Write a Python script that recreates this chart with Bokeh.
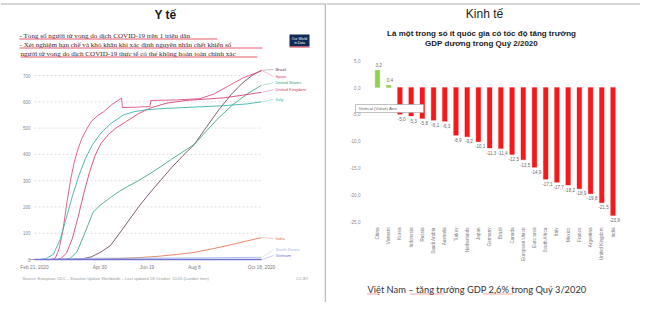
import math
from bokeh.plotting import figure
from bokeh.layouts import row
from bokeh.models import Range1d
from bokeh.core.properties import value
from bokeh.embed import file_html
from bokeh.resources import INLINE

SANS = "Liberation Sans"
SERIF = "Liberation Serif"

# ---------------- left panel data: COVID-19 deaths per million ----------------
tick_days = [0, 69, 119, 169, 240]
tick_labels = ["Feb 21, 2020", "Apr 30", "Jun 19", "Aug 8", "Oct 18, 2020"]
y_ticks = [0, 100, 200, 300, 400, 500, 600, 700]

countries = ["Brazil", "Spain", "United States", "United Kingdom", "Italy",
             "India", "South Korea", "Vietnam"]
colors = ["#6b4162", "#e0457b", "#3da37d", "#d33d6c", "#36b0a6",
          "#e4734f", "#9fb6e6", "#6c6fd6"]

brazil_days = [0, 38, 50, 60, 70, 80, 90, 100, 110, 120, 133, 145, 157, 169, 182, 195, 208, 220, 230, 240]
brazil_vals = [0, 0, 2, 10, 28, 52, 100, 150, 200, 245, 300, 350, 395, 438, 505, 570, 628, 672, 700, 720]

spain_days = [0, 17, 22, 26, 30, 34, 38, 42, 46, 50, 55, 60, 66, 73, 82, 92, 93, 110, 122, 123, 150, 175, 190, 205, 220, 240]
spain_vals = [0, 0, 5, 40, 110, 210, 300, 370, 420, 460, 495, 525, 545, 562, 590, 614, 578, 580, 582, 605, 607, 612, 630, 660, 690, 718]

us_days = [0, 25, 32, 38, 45, 52, 62, 69, 80, 90, 98, 110, 120, 133, 145, 157, 169, 182, 195, 210, 225, 240]
us_vals = [0, 0, 1, 5, 30, 90, 180, 205, 235, 260, 277, 300, 322, 352, 382, 410, 438, 490, 540, 590, 630, 663]

uk_days = [0, 22, 28, 34, 40, 46, 52, 58, 64, 70, 78, 86, 97, 110, 123, 140, 160, 180, 200, 220, 240]
uk_vals = [0, 0, 4, 25, 80, 160, 250, 330, 395, 440, 475, 500, 525, 555, 577, 595, 605, 610, 615, 625, 636]

italy_days = [0, 5, 12, 20, 27, 33, 40, 47, 54, 61, 70, 80, 94, 105, 119, 140, 170, 200, 225, 240]
italy_vals = [0, 0, 3, 20, 75, 150, 240, 320, 385, 435, 480, 515, 550, 562, 570, 575, 580, 585, 592, 600]

india_days = [0, 40, 60, 73, 90, 110, 130, 150, 169, 190, 210, 225, 240]
india_vals = [0, 0, 0.3, 1.5, 3.5, 7, 12, 19, 27, 42, 58, 71, 83]

korea_days = [0, 10, 20, 30, 45, 60, 90, 130, 170, 200, 240]
korea_vals = [0, 0, 0.5, 2, 3.5, 4.8, 5.3, 5.5, 6, 7, 8.5]

vietnam_days = [0, 150, 155, 165, 180, 240]
vietnam_vals = [0, 0, 0.1, 0.2, 0.35, 0.36]

series_days = [brazil_days, spain_days, us_days, uk_days, italy_days, india_days, korea_days, vietnam_days]
series_vals = [brazil_vals, spain_vals, us_vals, uk_vals, italy_vals, india_vals, korea_vals, vietnam_vals]

# ---------------- right panel data: GDP growth Q2/2020 ----------------
gdp_countries = ["China", "Vietnam", "Korea", "Indonesia", "Russia", "Saudi Arabia",
                 "Australia", "Turkey", "Netherlands", "Japan", "Germany", "Brazil",
                 "Canada", "European Union", "Euro area", "South Africa", "Italy",
                 "Mexico", "France", "Argentina", "United Kingdom", "India"]
gdp_growth = [3.2, 0.4, -5.0, -5.3, -5.8, -6.1, -6.3, -8.9, -9.2, -10.1, -11.3, -11.4,
              -12.5, -13.5, -14.9, -17.1, -17.7, -18.2, -18.9, -19.8, -21.5, -23.9]
gdp_ticks = [5, 0, -5, -10, -15, -20, -25]

# ---------------- geometry (image pixel space) ----------------
W_L, W_R, H = 326, 314, 302
ORG = 8  # page margin


def txt(p, xs, ys, texts, size, color, align="left", baseline="middle",
        font=SANS, style="normal", angle=0.0, px=True):
    kw = dict(x_range_name="px", y_range_name="px") if px else {}
    p.text(x=xs, y=ys, text=texts, text_font=value(font), text_font_size=f"{size}px",
           text_color=color, text_align=align, text_baseline=baseline,
           text_font_style=style, angle=angle, **kw)


# ================= LEFT PANEL =================
D0_X, DEND_X = 42.0, 269.0
V0_Y, V700_Y = 267.0, 83.0
kx = (DEND_X - D0_X) / tick_days[-1]
ky = (V0_Y - V700_Y) / 700.0


def ld(px):
    return (px - D0_X) / kx


def lv(py):
    return (V0_Y - py) / ky


pl = figure(width=W_L, height=H, x_range=Range1d(ld(ORG), ld(ORG + W_L)),
            y_range=Range1d(lv(ORG + H), lv(ORG)), output_backend="svg",
            toolbar_location=None, x_axis_type=None, y_axis_type=None,
            min_border=0, outline_line_color=None)
pl.extra_x_ranges = {"px": Range1d(ORG, ORG + W_L)}
pl.extra_y_ranges = {"px": Range1d(ORG + H, ORG)}

# frame lines
pl.segment(x0=[ORG], x1=[ORG + W_L], y0=[11.5], y1=[11.5], line_color="#c8c8c8",
           line_width=1.5, x_range_name="px", y_range_name="px")
pl.segment(x0=[333], x1=[333], y0=[11.5], y1=[ORG + H], line_color="#bdbdbd",
           line_width=1.5, x_range_name="px", y_range_name="px")

# title
txt(pl, [173], [22], ["Y tế"], 12, "#1a1a1a", align="center", style="bold")

# red notes
notes = ["- Tổng số người tử vong do dịch COVID-19   trên 1 triệu dân",
         "- Xét nghiệm hạn chế và khó khăn khi xác  định nguyên nhân chết khiến số",
         "người tử vong do dịch COVID-19  thực tế có thể không hoàn toàn chính xác"]
txt(pl, [27, 27, 28], [43, 52, 61.5], notes, 7.1, "#4a2222", font=SERIF)
pl.segment(x0=[27, 27, 28], x1=[225, 270, 265], y0=[46.5, 55.5, 64.5],
           y1=[46.5, 55.5, 64.5], line_color="#e0304a", line_width=0.8,
           x_range_name="px", y_range_name="px")

# OWID logo
pl.quad(left=[297], right=[317], top=[42], bottom=[54], fill_color="#0f2a57",
        line_color=None, x_range_name="px", y_range_name="px")
pl.segment(x0=[297], x1=[317], y0=[54.5], y1=[54.5], line_color="#d8344a",
           line_width=1.2, x_range_name="px", y_range_name="px")
txt(pl, [307, 307], [46, 50.5], ["Our World", "in Data"], 3.4, "white", align="center")

# grid + baseline
pl.segment(x0=[tick_days[0]] * 7, x1=[tick_days[-1]] * 7, y0=y_ticks[1:], y1=y_ticks[1:],
           line_color="#d6d6d6", line_dash="2 2", line_width=0.8)
pl.segment(x0=[ld(37)], x1=[tick_days[-1]], y0=[0], y1=[0], line_color="#9a9a9a", line_width=0.9)

# tick labels
txt(pl, [ld(38)] * len(y_ticks), y_ticks, [str(t) for t in y_ticks], 4.5, "#8a8a8a",
    align="right", px=False)
txt(pl, tick_days, [lv(275)] * len(tick_days), tick_labels, 4.8, "#7a7a7a",
    align="center", px=False)

# series lines
for d, v, c in zip(series_days, series_vals, colors):
    pl.line(d, v, line_color=c, line_width=0.95 if c != "#6c6fd6" else 1.5, line_alpha=0.9)

# end labels with leader lines
label_y = [77, 84, 90, 97, 107, 246, 257, 263]
pl.segment(x0=[d[-1] + 1 for d in series_days], x1=[ld(281)] * 8,
           y0=[v[-1] for v in series_vals], y1=[lv(y) for y in label_y],
           line_color=colors, line_width=0.5, line_alpha=0.7)
txt(pl, [283] * 8, label_y, countries, 4.3, colors)

# source
txt(pl, [30], [286], ["Source: European CDC – Situation Update Worldwide – Last updated 18 October, 10:05 (London time)"],
    4.1, "#9a9a9a")
txt(pl, [316], [286], ["CC BY"], 4.1, "#9a9a9a", align="right")

# ================= RIGHT PANEL =================
B0_X, BEND_X = 385.0, 620.5
G0_Y, G25_Y = 95.0, 229.0
kxr = (BEND_X - B0_X) / (len(gdp_growth) - 1)
kyr = (G25_Y - G0_Y) / 25.0


def rd(px):
    return (px - B0_X) / kxr


def rv(py):
    return (G0_Y - py) / kyr


pr = figure(width=W_R, height=H, x_range=Range1d(rd(ORG + W_L), rd(ORG + W_L + W_R)),
            y_range=Range1d(rv(ORG + H), rv(ORG)), output_backend="svg",
            toolbar_location=None, x_axis_type=None, y_axis_type=None,
            min_border=0, outline_line_color=None)
pr.extra_x_ranges = {"px": Range1d(ORG + W_L, ORG + W_L + W_R)}
pr.extra_y_ranges = {"px": Range1d(ORG + H, ORG)}

pr.segment(x0=[ORG + W_L], x1=[ORG + W_L + W_R], y0=[11.5], y1=[11.5], line_color="#c8c8c8",
           line_width=1.5, x_range_name="px", y_range_name="px")

txt(pr, [492], [21], ["Kinh tế"], 12, "#222222", align="center")
txt(pr, [489, 489], [40.5, 51], ["Là một trong số ít quốc gia có tốc độ tăng trưởng",
                                 "GDP dương trong Quý 2/2020"], 8, "#1a1a1a",
    align="center", style="bold")

idx = list(range(len(gdp_growth)))
bar_colors = ["#92d050" if g > 0 else "#f5191b" for g in gdp_growth]
pr.vbar(x=idx, top=gdp_growth, bottom=0, width=0.42, fill_color=bar_colors,
        line_color=bar_colors, line_width=0.3)

# value labels
pos_i = [i for i, g in enumerate(gdp_growth) if g > 0]
neg_i = [i for i, g in enumerate(gdp_growth) if g <= 0]
fmt = lambda g: f"{g:.1f}".replace(".", ",")
txt(pr, [i + 0.1 for i in pos_i], [gdp_growth[i] + 0.7 for i in pos_i],
    [fmt(gdp_growth[i]) for i in pos_i], 4.6, "#6a6a6a", align="center",
    baseline="bottom", px=False)
txt(pr, [i + 0.15 for i in neg_i], [gdp_growth[i] - 0.5 for i in neg_i],
    [fmt(gdp_growth[i]) for i in neg_i], 4.6, "#6a6a6a", align="center",
    baseline="top", px=False)

# y tick labels
txt(pr, [rd(368)] * len(gdp_ticks), gdp_ticks, [fmt(t) for t in gdp_ticks], 4.6,
    "#8c8c8c", align="right", px=False)

# category labels (rotated)
txt(pr, idx, [rv(235)] * len(idx), gdp_countries, 4.6, "#7a7a7a", align="right",
    angle=math.pi / 2, px=False)

# axis tooltip
pr.quad(left=[363], right=[431], top=[112], bottom=[120], fill_color="white",
        line_color="#a8a8a8", line_width=0.7, x_range_name="px", y_range_name="px")
txt(pr, [366], [116.2], ["Vertical (Value) Axis"], 4.4, "#666666")

# footer
txt(pr, [375], [297], ["Việt Nam – tăng trưởng GDP 2,6% trong Quý 3/2020"], 9.3,
    "#333333", font="Lato")
pr.segment(x0=[375, 418, 491], x1=[386, 452, 521], y0=[301.5] * 3, y1=[301.5] * 3,
           line_color="#e02020", line_width=0.8, line_dash="1 1",
           x_range_name="px", y_range_name="px")

layout = row(pl, pr)
open("out.html", "w").write(file_html(layout, INLINE))
